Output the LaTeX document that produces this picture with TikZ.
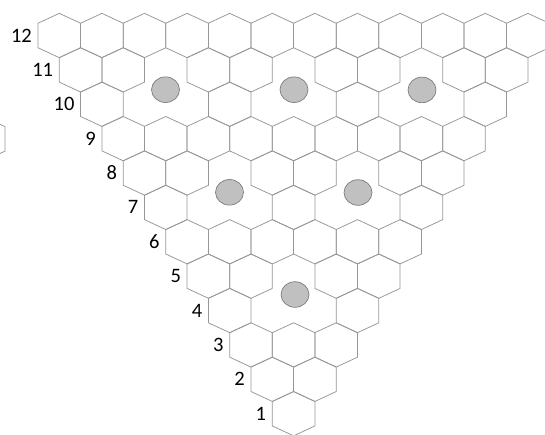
\documentclass[tikz,border=0pt]{standalone}
\usepackage{fontspec}
\setmainfont{Carlito}
\definecolor{hexgray}{RGB}{150,150,150}
\definecolor{dotfill}{RGB}{192,192,192}
\definecolor{dotline}{RGB}{125,125,125}
\tikzset{
  hexline/.style={draw=hexgray, line width=0.75pt, line join=miter},
  holedot/.style={fill=dotfill, draw=dotline, line width=0.7pt},
  rowlabel/.style={anchor=east, font=\fontsize{20.5}{20.5}\selectfont, inner sep=0pt, text=black},
}
\newcommand\hexat[2]{%
  \draw[hexline] (#1,#2-22.15) -- ++(21.3,9.9) -- ++(0,24.5) -- ++(-21.3,9.9)
    -- ++(-21.3,-9.9) -- ++(0,-24.5) -- cycle;}
\expandafter\def\csname hole@11@2\endcsname{}
\expandafter\def\csname hole@10@1\endcsname{}
\expandafter\def\csname hole@10@2\endcsname{}
\expandafter\def\csname hole@11@5\endcsname{}
\expandafter\def\csname hole@10@4\endcsname{}
\expandafter\def\csname hole@10@5\endcsname{}
\expandafter\def\csname hole@11@8\endcsname{}
\expandafter\def\csname hole@10@7\endcsname{}
\expandafter\def\csname hole@10@8\endcsname{}
\expandafter\def\csname hole@8@2\endcsname{}
\expandafter\def\csname hole@7@1\endcsname{}
\expandafter\def\csname hole@7@2\endcsname{}
\expandafter\def\csname hole@8@5\endcsname{}
\expandafter\def\csname hole@7@4\endcsname{}
\expandafter\def\csname hole@7@5\endcsname{}
\expandafter\def\csname hole@5@2\endcsname{}
\expandafter\def\csname hole@4@1\endcsname{}
\expandafter\def\csname hole@4@2\endcsname{}
\begin{document}
\begin{tikzpicture}[x=1pt,y=-1pt]
\useasboundingbox (0,0) rectangle (545,435);
\begin{scope}
\clip (0,0) rectangle (545,435);
% hexagon tiling, rows 1 (bottom) to 12 (top)
\foreach \r in {1,...,12}{
  \pgfmathtruncatemacro\kmax{\r-1}
  \foreach \k in {0,...,\kmax}{
    \ifcsname hole@\r @\k\endcsname\else
      \pgfmathsetmacro\cx{38+(12-\r)*21.3+21.3+42.6*\k}
      \pgfmathsetmacro\cy{35.5+(12-\r)*34.38}
      \hexat{\cx}{\cy}
    \fi
  }
}
% stray partial hexagon at the left edge
\hexat{-16.3}{138.9}
\end{scope}
% grey dots in the holes
\draw[holedot] (165.5,89.7) ellipse (14 and 12.8);
\draw[holedot] (294,89.7) ellipse (14 and 12.8);
\draw[holedot] (422,89.9) ellipse (14 and 12.8);
\draw[holedot] (229.5,192.3) ellipse (14 and 12.8);
\draw[holedot] (358,192.5) ellipse (14 and 12.8);
\draw[holedot] (295,294.5) ellipse (14 and 12.8);
% row labels
\foreach \r in {1,...,12}{
  \pgfmathsetmacro\lx{38+(12-\r)*21.3-6}
  \pgfmathsetmacro\ly{35.5+(12-\r)*34.38}
  \node[rowlabel] (lab\r) at (\lx,\ly) {\r};
}
\end{tikzpicture}
\end{document}
